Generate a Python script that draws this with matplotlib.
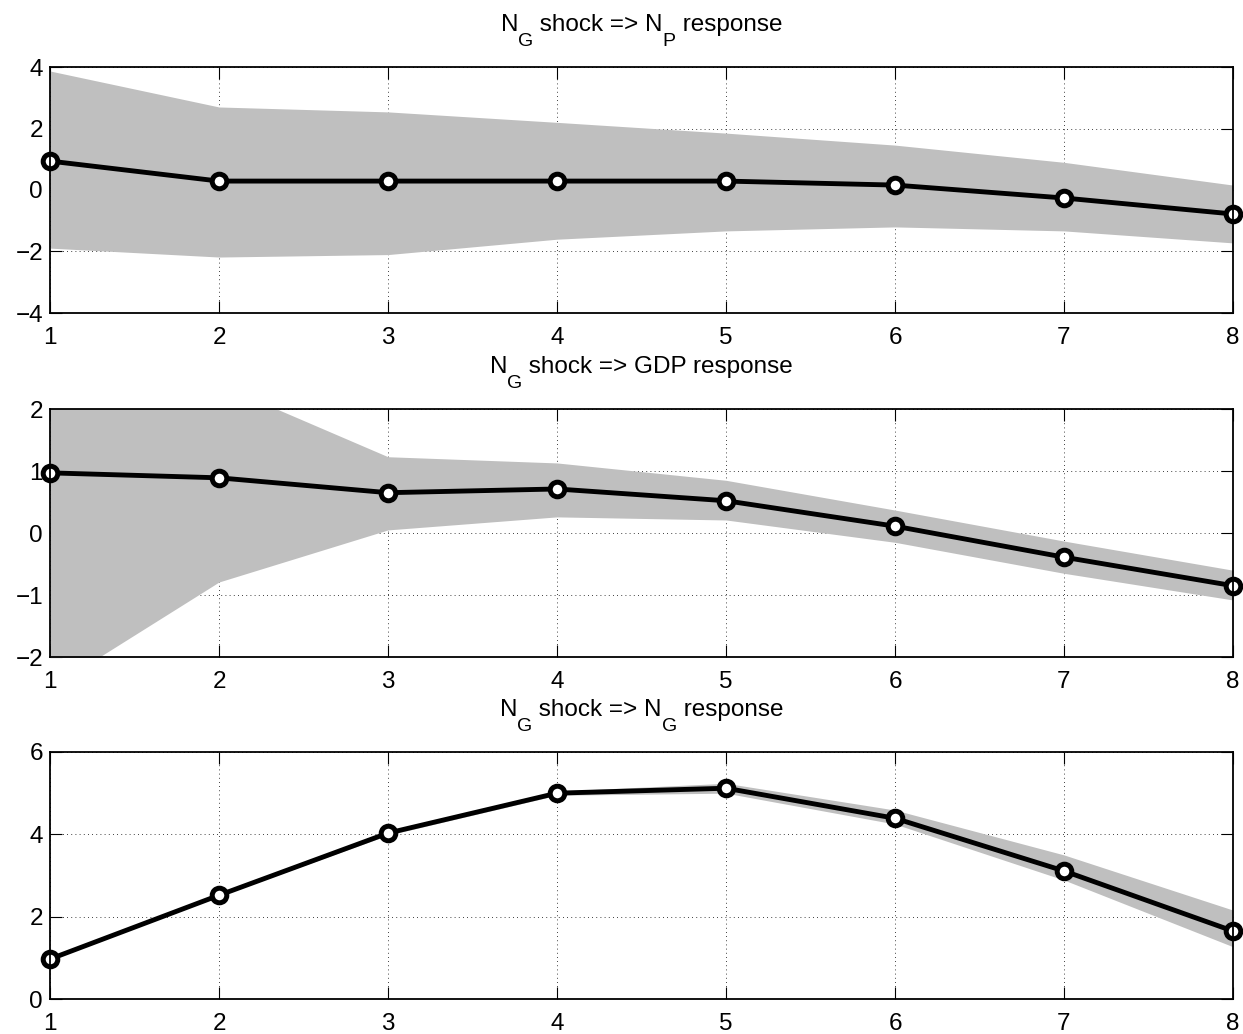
import numpy as np
import matplotlib
matplotlib.use('Agg')
import matplotlib.pyplot as plt
from matplotlib import font_manager as fm
from matplotlib.transforms import offset_copy

# keep the regular Liberation Sans, not the Narrow cut
fm.fontManager.ttflist = [f for f in fm.fontManager.ttflist if 'Narrow' not in f.fname]
plt.rcParams['font.family'] = ['Liberation Sans', 'DejaVu Sans']

horizon = [1, 2, 3, 4, 5, 6, 7, 8]

# N_G shock => N_P response
np_resp = [0.94, 0.29, 0.29, 0.29, 0.29, 0.16, -0.26, -0.78]
np_upper = [3.87, 2.70, 2.54, 2.20, 1.85, 1.46, 0.90, 0.16]
np_lower = [-1.89, -2.18, -2.10, -1.60, -1.33, -1.20, -1.33, -1.72]

# N_G shock => GDP response
gdp_resp = [0.97, 0.89, 0.65, 0.71, 0.52, 0.11, -0.39, -0.85]
gdp_upper = [3.5, 2.40, 1.23, 1.13, 0.85, 0.37, -0.13, -0.60]
gdp_lower = [-2.50, -0.79, 0.05, 0.26, 0.21, -0.15, -0.65, -1.08]

# N_G shock => N_G response
ng_resp = [0.97, 2.52, 4.03, 5.00, 5.12, 4.39, 3.11, 1.65]
ng_upper = [1.00, 2.55, 4.08, 5.05, 5.24, 4.59, 3.50, 2.16]
ng_lower = [0.95, 2.50, 3.98, 4.95, 5.00, 4.25, 2.89, 1.27]

# titles as (text, is_subscript) pieces, matlab style subscripts
titles = [[('N', False), ('G', True), (' shock => N', False), ('P', True), (' response', False)],
          [('N', False), ('G', True), (' shock => GDP response', False)],
          [('N', False), ('G', True), (' shock => N', False), ('G', True), (' response', False)]]
ylims = [(-4, 4), (-2, 2), (0, 6)]
yticks = [[-4, -2, 0, 2, 4], [-2, -1, 0, 1, 2], [0, 2, 4, 6]]
panels = [(np_resp, np_upper, np_lower),
          (gdp_resp, gdp_upper, gdp_lower),
          (ng_resp, ng_upper, ng_lower)]

fig = plt.figure(figsize=(12.43, 10.34), dpi=100)
renderer = fig.canvas.get_renderer()
left, width = 50 / 1243, (1233 - 50) / 1243
tops = [67, 409, 752]
bottoms = [313, 657, 999]
fs, fs_sub = 17.5, 14


def put_title(ax, pieces):
    # lay out pieces left to right, centered over the axes
    texts = []
    total = 0
    for s, sub in pieces:
        t = ax.text(0.5, 1.0, s, transform=ax.transAxes, fontsize=fs_sub if sub else fs,
                    ha='left', va='baseline')
        w = t.get_window_extent(renderer).width
        texts.append((t, sub, w))
        total += w
    x = -total / 2
    for t, sub, w in texts:
        dy = 21 if sub else 36
        t.set_transform(offset_copy(ax.transAxes, fig, x=x, y=dy, units='dots'))
        x += w


for i in range(3):
    b = 1 - bottoms[i] / 1034
    h = (bottoms[i] - tops[i]) / 1034
    ax = fig.add_axes([left, b, width, h])
    resp, up, lo = panels[i]
    ax.fill_between(horizon, lo, up, color='#bfbfbf', lw=0, zorder=2)
    ax.plot(horizon, resp, color='black', lw=3.5, marker='o', ms=10.5,
            mfc='white', mec='black', mew=3.6, zorder=3, clip_on=False)
    ax.set_xlim(1, 8)
    ax.set_ylim(*ylims[i])
    ax.set_xticks(horizon)
    ax.set_yticks(yticks[i])
    ax.set_yticklabels([str(t).replace('-', '\u2212') for t in yticks[i]])
    ax.grid(True, color='black', linestyle=(0, (1, 4)), lw=0.6, zorder=1)
    ax.set_axisbelow(True)
    ax.tick_params(direction='in', length=8.5, width=0.8, top=True, right=True,
                   labelsize=fs)
    ax.tick_params(axis='x', pad=10)
    ax.tick_params(axis='y', pad=5)
    for s in ax.spines.values():
        s.set_linewidth(1.3)
        s.set_zorder(4)
    put_title(ax, titles[i])

plt.savefig('out.png', dpi=100)
